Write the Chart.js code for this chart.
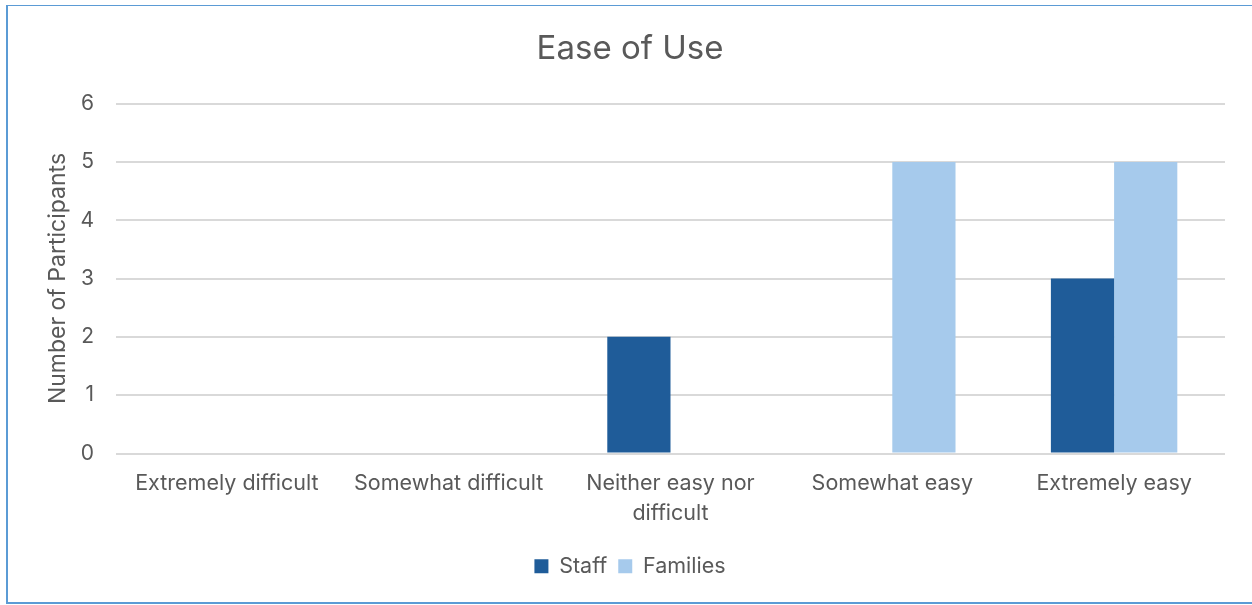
<!DOCTYPE html>
<html>
<head>
<meta charset="utf-8">
<script src="https://cdn.jsdelivr.net/npm/chart.js@4"></script>
<style>
  body { margin: 0; background: #fff; }
  #box {
    position: absolute; left: 6px; top: 5px;
    width: 1246px; height: 596px;
    border-left: 2px solid #5b9bd5;
    border-top: 1px solid #5b9bd5;
    border-bottom: 2px solid #5b9bd5;
  }
  #wrap { position: relative; width: 1244px; height: 596px; }
</style>
</head>
<body>
<div id="box"><div id="wrap"><canvas id="myChart"></canvas></div></div>
<script>
const categories = ["Extremely difficult", "Somewhat difficult", ["Neither easy nor", "difficult"], "Somewhat easy", "Extremely easy"];
const staffValues = [0, 0, 2, 0, 3];
const familiesValues = [0, 0, 0, 5, 5];
const yTicks = [0, 1, 2, 3, 4, 5, 6];

const textColor = "#595959";
const fontName = "Inter, 'Liberation Sans', sans-serif";

const ctx = document.getElementById("myChart").getContext("2d");
const myChart = new Chart(ctx, {
  type: "bar",
  data: {
    labels: categories,
    datasets: [
      { label: "Staff", data: staffValues, backgroundColor: "#1f5c99" },
      { label: "Families", data: familiesValues, backgroundColor: "#a6caec" }
    ]
  },
  options: {
    responsive: true,
    maintainAspectRatio: false,
    animation: false,
    datasets: { bar: { categoryPercentage: 0.57, barPercentage: 1.0 } },
    layout: { padding: { left: 27, right: 27, top: 0, bottom: 15 } },
    plugins: {
      title: {
        display: true,
        text: "Ease of Use",
        color: textColor,
        font: { family: fontName, size: 33, weight: "normal" },
        padding: { top: 23, bottom: 35 }
      },
      legend: {
        position: "bottom",
        labels: {
          color: textColor,
          font: { family: fontName, size: 21.5 },
          boxWidth: 14, boxHeight: 14,
          padding: 11
        }
      },
      tooltip: { enabled: false }
    },
    scales: {
      x: {
        grid: { display: false, drawTicks: false },
        border: { display: false },
        ticks: {
          color: textColor,
          font: { family: fontName, size: 21.5, lineHeight: 1.35 },
          padding: 16,
          maxRotation: 0,
          autoSkip: false
        },
        afterFit: (scale) => { scale.height = 91; }
      },
      y: {
        min: 0,
        max: 6,
        afterBuildTicks: (scale) => { scale.ticks = yTicks.map(v => ({ value: v })); },
        grid: { color: "#d9d9d9", lineWidth: 2, drawTicks: false },
        border: { display: false },
        ticks: {
          color: textColor,
          font: { family: fontName, size: 21 },
          padding: 22
        },
        title: {
          display: true,
          text: "Number of Participants",
          color: textColor,
          font: { family: fontName, size: 23 },
          padding: { top: 9, bottom: 0 }
        },
        afterFit: (scale) => { scale.width = 81; }
      }
    }
  }
});
</script>
</body>
</html>
